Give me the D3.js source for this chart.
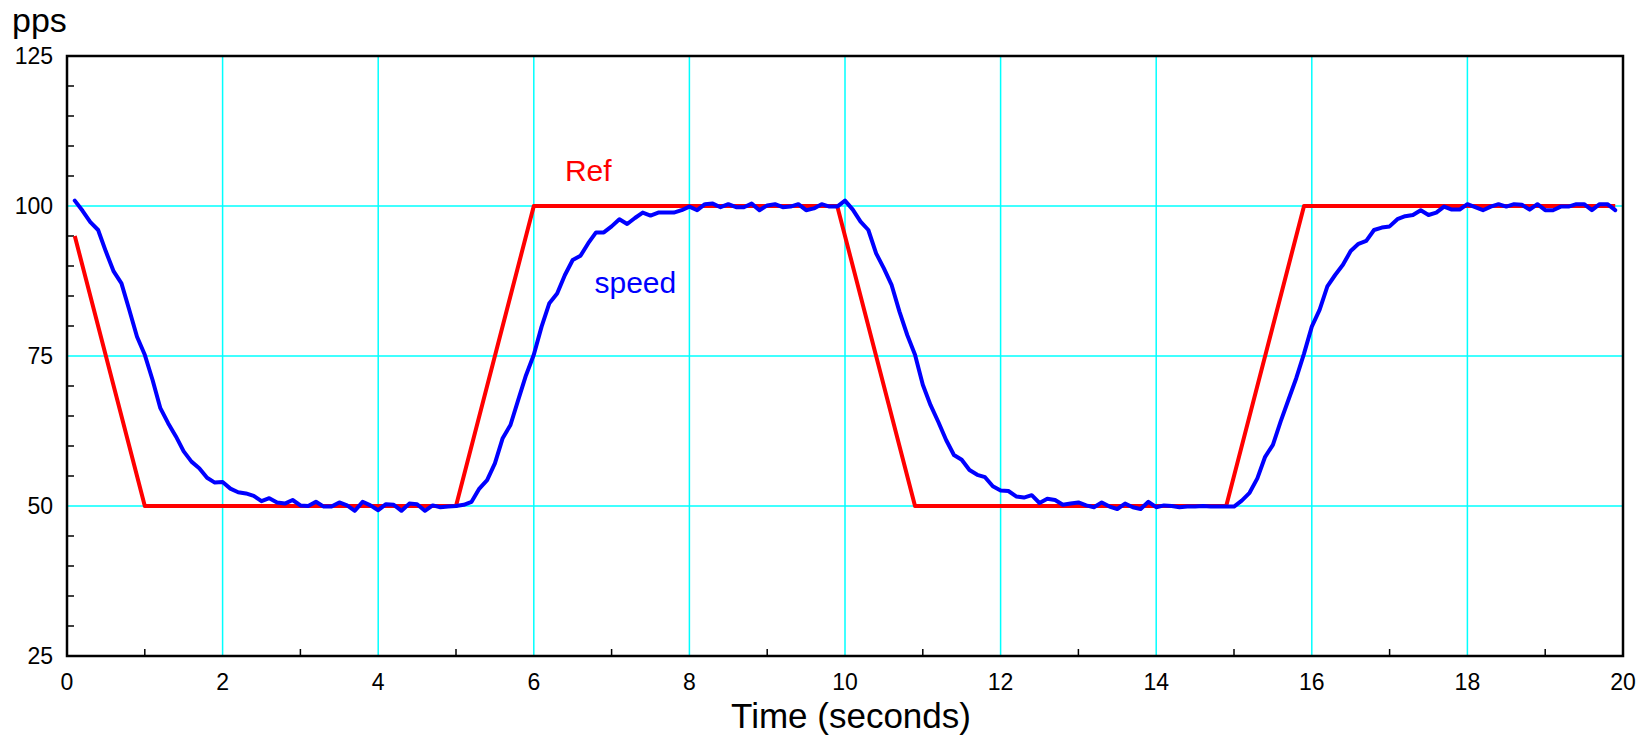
<!DOCTYPE html>
<html>
<head>
<meta charset="utf-8">
<script src="https://cdn.jsdelivr.net/npm/d3@7"></script>
<style>
  body { margin: 0; background: #fff; }
  svg text { font-family: "Liberation Sans", Arial, Helvetica, sans-serif; }
</style>
</head>
<body>
<div id="wrapper"></div>
<script>
// reference profile (corner points)
var refTime = [0.1, 1.0, 5.0, 6.0, 9.9, 10.9, 14.9, 15.9, 19.9]
var refValue = [95, 50, 50, 100, 100, 50, 50, 100, 100]

// measured speed, sampled every 0.1 s starting at t = 0.1
var speedStart = 0.1
var speedStep = 0.1
var speedValue = [
  100.9, 99.2, 97.3, 96.0, 92.4, 89.1, 87.1, 82.7, 78.2, 75.2,
  71.0, 66.3, 63.8, 61.6, 59.1, 57.4, 56.3, 54.7, 53.9, 54.0,
  52.9, 52.3, 52.1, 51.7, 50.8, 51.3, 50.6, 50.4, 51.0, 50.1,
  50.0, 50.7, 49.9, 49.9, 50.6, 50.1, 49.2, 50.7, 50.1, 49.3,
  50.3, 50.2, 49.2, 50.4, 50.3, 49.2, 50.1, 49.8, 49.9, 50.0,
  50.2, 50.7, 52.9, 54.3, 57.1, 61.3, 63.5, 67.7, 71.8, 75.2,
  79.9, 83.8, 85.4, 88.5, 91.0, 91.7, 93.8, 95.6, 95.6, 96.6,
  97.8, 97.0, 98.0, 98.9, 98.4, 98.9, 98.9, 98.9, 99.3, 99.9,
  99.3, 100.3, 100.4, 99.8, 100.3, 99.8, 99.8, 100.4, 99.3, 100.1,
  100.3, 99.8, 99.9, 100.3, 99.3, 99.6, 100.3, 99.9, 99.9, 100.9,
  99.4, 97.4, 96.0, 92.1, 89.6, 86.8, 82.4, 78.5, 75.2, 70.2,
  66.8, 64.0, 61.0, 58.5, 57.7, 56.0, 55.2, 54.8, 53.3, 52.6,
  52.5, 51.6, 51.4, 51.8, 50.5, 51.2, 51.0, 50.2, 50.4, 50.6,
  50.1, 49.8, 50.6, 49.9, 49.5, 50.4, 49.8, 49.5, 50.7, 49.8,
  50.1, 50.0, 49.8, 49.9, 49.9, 50.0, 49.9, 49.9, 49.9, 49.9,
  50.9, 52.2, 54.6, 58.2, 60.2, 64.1, 67.7, 71.3, 75.4, 79.9,
  82.7, 86.6, 88.5, 90.2, 92.5, 93.7, 94.2, 96.0, 96.4, 96.6,
  97.8, 98.3, 98.5, 99.3, 98.5, 98.9, 99.9, 99.4, 99.4, 100.3,
  99.8, 99.3, 99.9, 100.3, 99.9, 100.3, 100.2, 99.4, 100.3, 99.3,
  99.3, 99.9, 99.9, 100.3, 100.3, 99.3, 100.3, 100.3, 99.3
]

var xTicks = [0, 2, 4, 6, 8, 10, 12, 14, 16, 18, 20]
var xMinor = [1, 3, 5, 7, 9, 11, 13, 15, 17, 19]
var yTicks = [25, 50, 75, 100, 125]
var yMinor = [30, 35, 40, 45, 55, 60, 65, 70, 80, 85, 90, 95, 105, 110, 115, 120]

var dimension = {
    width: 1650,
    height: 735,
    margin: { top: 56, right: 27, bottom: 79, left: 67 }
}
dimension.boundedWidth = dimension.width - dimension.margin.left - dimension.margin.right
dimension.boundedHeight = dimension.height - dimension.margin.top - dimension.margin.bottom

var refData = refTime.map((t, i) => ({ t: t, v: refValue[i] }))
var speedData = speedValue.map((v, i) => ({ t: speedStart + i * speedStep, v: v }))

var x = d3.scaleLinear().domain([0, 20]).range([0, dimension.boundedWidth])
var y = d3.scaleLinear().domain([25, 125]).range([dimension.boundedHeight, 0])

const svg = d3.select("#wrapper")
    .append("svg")
    .attr("width", dimension.width)
    .attr("height", dimension.height)

const g = svg.append("g")
    .attr("transform", `translate(${dimension.margin.left},${dimension.margin.top})`)

// grid
g.append("g")
    .selectAll("line")
    .data(xTicks.slice(1, -1))
    .enter()
    .append("line")
    .attr("x1", d => x(d)).attr("x2", d => x(d))
    .attr("y1", 0).attr("y2", dimension.boundedHeight)
    .style("stroke", "#00ffff")
    .style("stroke-width", 1.5)

g.append("g")
    .selectAll("line")
    .data(yTicks.slice(1, -1))
    .enter()
    .append("line")
    .attr("x1", 0).attr("x2", dimension.boundedWidth)
    .attr("y1", d => y(d)).attr("y2", d => y(d))
    .style("stroke", "#00ffff")
    .style("stroke-width", 1.5)

// minor ticks inside the frame
g.append("g")
    .selectAll("line")
    .data(yMinor)
    .enter()
    .append("line")
    .attr("x1", 0).attr("x2", 7)
    .attr("y1", d => y(d)).attr("y2", d => y(d))
    .style("stroke", "#000")
    .style("stroke-width", 1.5)

g.append("g")
    .selectAll("line")
    .data(xMinor)
    .enter()
    .append("line")
    .attr("x1", d => x(d)).attr("x2", d => x(d))
    .attr("y1", dimension.boundedHeight).attr("y2", dimension.boundedHeight - 7)
    .style("stroke", "#000")
    .style("stroke-width", 1.5)

// series
var line = d3.line()
    .x(d => x(d.t))
    .y(d => y(d.v))

g.append("path")
    .datum(refData)
    .attr("d", line)
    .style("fill", "none")
    .style("stroke", "#ff0000")
    .style("stroke-width", 4)
    .style("stroke-linejoin", "round")

g.append("path")
    .datum(speedData)
    .attr("d", line)
    .style("fill", "none")
    .style("stroke", "#0000ff")
    .style("stroke-width", 4)
    .style("stroke-linejoin", "round")
    .style("stroke-linecap", "round")

// frame
g.append("rect")
    .attr("x", 0).attr("y", 0)
    .attr("width", dimension.boundedWidth)
    .attr("height", dimension.boundedHeight)
    .style("fill", "none")
    .style("stroke", "#000")
    .style("stroke-width", 2.5)

// tick labels
g.append("g")
    .selectAll("text")
    .data(xTicks)
    .enter()
    .append("text")
    .attr("x", d => x(d))
    .attr("y", dimension.boundedHeight + 34)
    .attr("text-anchor", "middle")
    .style("font-size", "23px")
    .text(d => d)

g.append("g")
    .selectAll("text")
    .data(yTicks)
    .enter()
    .append("text")
    .attr("x", -14)
    .attr("y", d => y(d) + 8)
    .attr("text-anchor", "end")
    .style("font-size", "23px")
    .text(d => d)

// axis titles
svg.append("text")
    .attr("x", 12)
    .attr("y", 32)
    .style("font-size", "34px")
    .text("pps")

svg.append("text")
    .attr("x", 851)
    .attr("y", 728)
    .attr("text-anchor", "middle")
    .style("font-size", "35px")
    .text("Time (seconds)")

// series labels
g.append("text")
    .attr("x", x(6.4))
    .attr("y", y(95) - 55)
    .style("font-size", "30px")
    .style("fill", "#ff0000")
    .text("Ref")

g.append("text")
    .attr("x", x(6.78))
    .attr("y", y(85.5))
    .style("font-size", "30px")
    .style("fill", "#0000ff")
    .text("speed")
</script>
</body>
</html>
